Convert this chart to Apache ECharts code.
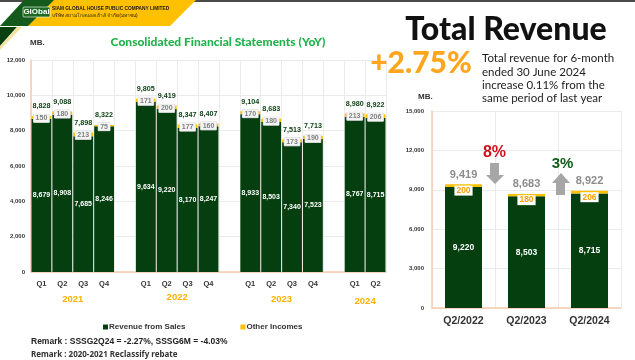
<!DOCTYPE html>
<html><head><meta charset="utf-8">
<script src="https://cdn.jsdelivr.net/npm/echarts@6/dist/echarts.min.js"></script>
<style>html,body{margin:0;padding:0;background:#fff}#c{width:635px;height:360px}</style>
</head><body><div id="c"></div>
<script>
// ---- Left chart data (quarterly) ----
const qCategories = ['Q1','Q2','Q3','Q4','','Q1','Q2','Q3','Q4','','Q1','Q2','Q3','Q4','','Q1','Q2'];
const years = ['2021','2022','2023','2024'];
const yearCenters = [[1,2],[6,7],[11,12],[15,16]]; // category indices each year label sits between
const qSales  = [8679, 8908, 7685, 8246, '-', 9634, 9220, 8170, 8247, '-', 8933, 8503, 7340, 7523, '-', 8767, 8715];
const qOther  = [150, 180, 213, 75, '-', 171, 200, 177, 160, '-', 170, 180, 173, 190, '-', 213, 206];
const qTotals = [8828, 9088, 7898, 8322, '-', 9805, 9419, 8347, 8407, '-', 9104, 8683, 7513, 7713, '-', 8980, 8922];
const leftTicks = [0, 2000, 4000, 6000, 8000, 10000, 12000];

// ---- Right chart data (Q2 comparison) ----
const cmpCategories = ['Q2/2022', 'Q2/2023', 'Q2/2024'];
const cmpSales  = [9220, 8503, 8715];
const cmpOther  = [200, 180, 206];
const cmpTotals = [9419, 8683, 8922];
const rightTicks = [0, 3000, 6000, 9000, 12000, 15000];

const GREEN = '#053f10', YELLOW = '#FFC000';
const fmt = v => (v === '-' ? '' : Number(v).toLocaleString('en-US'));
const FONT = 'Liberation Sans, Arial, sans-serif';

const chart = echarts.init(document.getElementById('c'), null, {renderer: 'canvas'});

const zeros = a => a.map(v => (v === '-' ? '-' : 0));

const option = {
  animation: false,
  textStyle: {fontFamily: FONT},
  grid: [
    {left: 31, right: 249, top: 60, bottom: 88},
    {left: 432, right: 14, top: 111, bottom: 52}
  ],
  legend: {
    left: 98, top: 318, itemWidth: 5, itemHeight: 5, itemGap: 55, icon: 'rect',
    data: ['Revenue from Sales', 'Other Incomes'],
    textStyle: {fontSize: 8, fontWeight: 'bold', color: '#333', fontFamily: FONT, padding: [0,0,0,-4]}
  },
  xAxis: [
    {type: 'category', gridIndex: 0, data: qCategories,
     axisLine: {lineStyle: {color: '#F8CBAD', width: 1.5}}, axisTick: {show: false},
     axisLabel: {interval: 0, fontSize: 7.5, fontWeight: 'bold', color: '#333', margin: 8},
     splitLine: {show: true, interval: 0, lineStyle: {color: '#EBEBEB'}}},
    {type: 'category', gridIndex: 1, data: cmpCategories,
     axisLine: {lineStyle: {color: '#F8CBAD', width: 1.5}}, axisTick: {show: false},
     axisLabel: {interval: 0, fontSize: 10.5, fontWeight: 'bold', color: '#333', margin: 8},
     splitLine: {show: true, interval: 0, lineStyle: {color: '#EBEBEB'}}}
  ],
  yAxis: [
    {type: 'value', gridIndex: 0, min: leftTicks[0], max: leftTicks[leftTicks.length-1], interval: leftTicks[1]-leftTicks[0],
     axisLine: {show: true, lineStyle: {color: '#F8CBAD', width: 1.5}}, axisTick: {show: false},
     axisLabel: {fontSize: 6, fontWeight: 'bold', color: '#333', margin: 6, formatter: fmt},
     splitLine: {lineStyle: {color: '#EBEBEB'}}},
    {type: 'value', gridIndex: 1, min: rightTicks[0], max: rightTicks[rightTicks.length-1], interval: rightTicks[1]-rightTicks[0],
     axisLine: {show: true, lineStyle: {color: '#F8CBAD', width: 1.5}}, axisTick: {show: false},
     axisLabel: {fontSize: 6, fontWeight: 'bold', color: '#333', margin: 8, formatter: fmt},
     splitLine: {lineStyle: {color: '#EBEBEB'}}}
  ],
  series: [
    {name: 'Revenue from Sales', type: 'bar', xAxisIndex: 0, yAxisIndex: 0, stack: 'L', data: qSales,
     barCategoryGap: '5%', itemStyle: {color: GREEN},
     label: {show: true, position: 'inside', fontSize: 7, fontWeight: 'bold', color: '#fff', formatter: p => fmt(p.value)}},
    {name: 'Other Incomes', type: 'bar', xAxisIndex: 0, yAxisIndex: 0, stack: 'L', data: qOther,
     itemStyle: {color: YELLOW},
     label: {show: true, position: 'inside', offset: [0, 1], fontSize: 7, fontWeight: 'bold', color: '#808080',
             backgroundColor: '#f4f4f4', borderColor: '#d8d8d8', borderWidth: 0.5, padding: [1, 2, 0, 2],
             formatter: p => fmt(p.value)}},
    {name: 'totalL', type: 'bar', xAxisIndex: 0, yAxisIndex: 0, stack: 'L', data: zeros(qTotals),
     itemStyle: {color: 'transparent'},
     label: {show: true, position: 'top', distance: 6, fontSize: 7.2, fontWeight: 'bold', color: '#0a3d12',
             formatter: p => fmt(qTotals[p.dataIndex])}},

    {name: 'Revenue from Sales', type: 'bar', xAxisIndex: 1, yAxisIndex: 1, stack: 'R', data: cmpSales,
     barWidth: 37, itemStyle: {color: GREEN},
     label: {show: true, position: 'inside', fontSize: 8.5, fontWeight: 'bold', color: '#fff', formatter: p => fmt(p.value)}},
    {name: 'Other Incomes', type: 'bar', xAxisIndex: 1, yAxisIndex: 1, stack: 'R', data: cmpOther,
     barWidth: 37, itemStyle: {color: YELLOW},
     label: {show: true, position: 'inside', offset: [0, 5], fontSize: 8.5, fontWeight: 'bold', color: '#FFA000',
             backgroundColor: '#fff', padding: [1, 2, 0, 2], formatter: p => fmt(p.value)}},
    {name: 'totalR', type: 'bar', xAxisIndex: 1, yAxisIndex: 1, stack: 'R', data: zeros(cmpTotals),
     barWidth: 37, itemStyle: {color: 'transparent'},
     label: {show: true, position: 'top', distance: 4, fontSize: 11, fontWeight: 'bold', color: '#8c8c8c',
             formatter: p => fmt(cmpTotals[p.dataIndex])}}
  ]
};
chart.setOption(option);

// Year labels placed between their categories via the axis scale
const yearGraphics = years.map((y, i) => {
  const a = chart.convertToPixel({xAxisIndex: 0}, yearCenters[i][0]);
  const b = chart.convertToPixel({xAxisIndex: 0}, yearCenters[i][1]);
  const yy = [299, 297, 299, 301][i];
  return {type: 'text', x: (a + b) / 2, y: yy,
    style: {text: y, fill: '#FFB000', font: 'bold 9.5px ' + FONT, textAlign: 'center', textVerticalAlign: 'middle',
            shadowColor: 'rgba(255,190,0,0.5)', shadowBlur: 2}};
});

const graphics = [
  // top rule
  {type: 'rect', shape: {x: 0, y: 0, width: 635, height: 2}, style: {fill: '#4a4a4a'}},
  // banner
  {type: 'polygon', shape: {points: [[30,0],[196,0],[170,26],[4,26]]}, style: {fill: YELLOW}},
  {type: 'polygon', shape: {points: [[24,0],[54,0],[28,26],[0,26]]}, style: {fill: '#145a1c'}},
  {type: 'polygon', shape: {points: [[0,27],[17,27],[0,46]]}, style: {fill: '#0a3f10'}},
  {type: 'polygon', shape: {points: [[17,27],[22,27],[0,50],[0,46]]}, style: {fill: '#f3e3a0'}},
  {type: 'rect', shape: {x: 23, y: 7, width: 27, height: 10, r: 1}, style: {fill: '#1c6b25', stroke: '#fff', lineWidth: 0.6}},
  {type: 'text', x: 36.5, y: 12, style: {text: 'GlObal', fill: '#fff', font: 'bold 8px ' + FONT, textAlign: 'center', textVerticalAlign: 'middle'}},
  {type: 'text', x: 52, y: 9, style: {text: 'SIAM GLOBAL HOUSE PUBLIC COMPANY LIMITED', fill: '#1a1a1a', font: 'bold 4.8px ' + FONT, textVerticalAlign: 'middle'}},
  {type: 'text', x: 52, y: 15.5, style: {text: 'บริษัท สยามโกลบอลเฮ้าส์ จำกัด(มหาชน)', fill: '#1a1a1a', font: '4.8px "Noto Sans", sans-serif', textVerticalAlign: 'middle'}},
  // left titles
  {type: 'text', x: 30, y: 43, style: {text: 'MB.', fill: '#333', font: 'bold 8px ' + FONT, textVerticalAlign: 'middle'}},
  {type: 'text', x: 218, y: 42, style: {text: 'Consolidated Financial Statements (YoY)', fill: '#22B24C', font: '900 12px Lato, sans-serif', textAlign: 'center', textVerticalAlign: 'middle'}},
  // remarks
  {type: 'text', x: 31, y: 342, style: {text: 'Remark : SSSG2Q24 = -2.27%, SSSG6M = -4.03%', fill: '#222', font: 'bold 8.5px ' + FONT, textVerticalAlign: 'middle'}},
  {type: 'text', x: 31, y: 355, style: {text: 'Remark : 2020-2021 Reclassify rebate', fill: '#333', font: 'bold 8px "Noto Sans", sans-serif', textVerticalAlign: 'middle'}},
  // right header
  {type: 'text', x: 506, y: 30, style: {text: 'Total Revenue', fill: '#111', font: '900 32px Lato, sans-serif', textAlign: 'center', textVerticalAlign: 'middle'}},
  {type: 'text', x: 421, y: 63, style: {text: '+2.75%', fill: '#FFA51E', font: '900 30px Lato, sans-serif', textAlign: 'center', textVerticalAlign: 'middle'}},
  {type: 'text', x: 482, y: 58, style: {text: 'Total revenue for 6-month', fill: '#222', font: '11.5px Lato, sans-serif', textVerticalAlign: 'middle'}},
  {type: 'text', x: 482, y: 72, style: {text: 'ended 30 June 2024', fill: '#222', font: '11.5px Lato, sans-serif', textVerticalAlign: 'middle'}},
  {type: 'text', x: 482, y: 85, style: {text: 'increase 0.11% from the', fill: '#222', font: '11.5px Lato, sans-serif', textVerticalAlign: 'middle'}},
  {type: 'text', x: 482, y: 98, style: {text: 'same period of last year', fill: '#222', font: '11.5px Lato, sans-serif', textVerticalAlign: 'middle'}},
  {type: 'text', x: 418, y: 97, style: {text: 'MB.', fill: '#333', font: 'bold 8px ' + FONT, textVerticalAlign: 'middle'}},
  // change annotations
  {type: 'polygon', shape: {points: [[490,163],[499,163],[499,175],[504,175],[495,184],[486,175],[490,175]]}, style: {fill: '#a6a6a6'}},
  {type: 'polygon', shape: {points: [[556,195],[565,195],[565,183],[570,183],[561,173],[552,183],[556,183]]}, style: {fill: '#a6a6a6'}},
  {type: 'text', x: 494.5, y: 153, style: {text: '8%', fill: '#D4111B', font: 'bold 16px ' + FONT, textAlign: 'center', textVerticalAlign: 'middle'}},
  {type: 'text', x: 562.5, y: 164, style: {text: '3%', fill: '#0F5A1A', font: 'bold 15px ' + FONT, textAlign: 'center', textVerticalAlign: 'middle'}}
].concat(yearGraphics);

chart.setOption({graphic: graphics});
</script>
</body></html>
